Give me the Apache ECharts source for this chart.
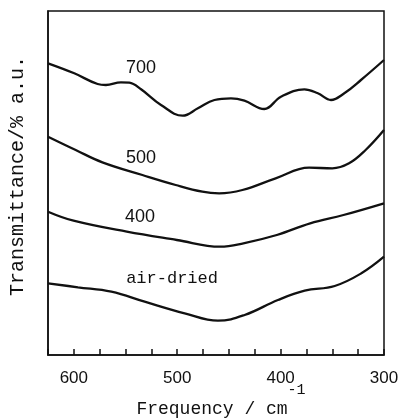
<!DOCTYPE html>
<html>
<head>
<meta charset="utf-8">
<script src="https://cdn.jsdelivr.net/npm/echarts@6/dist/echarts.min.js"></script>
<style>html,body{margin:0;padding:0;background:#fff;}#c{width:398px;height:418px;}</style>
</head>
<body>
<div id="c"></div>
<script>
// Frequency (cm^-1) and transmittance (a.u.) for each curve
const freq700 = [625, 599.6, 577, 569, 554.4, 546.4, 535, 515.7, 494.7, 480, 464, 448, 435, 415.8, 399.7, 377, 364, 351.3, 338.4, 322.3, 300];
const t700    = [291.7, 281.7, 271, 270, 272.7, 272.3, 265.7, 250, 239.3, 246.7, 255, 256.7, 254.3, 246, 258.3, 265.7, 261.7, 255, 261.7, 275, 295];
const freq500 = [625, 598.2, 572.4, 533.7, 501.5, 475.7, 459.5, 437, 404.8, 372.5, 350, 333.8, 317.8, 300];
const t500    = [218.3, 205, 192.7, 180, 170, 163.3, 161.7, 165, 176.7, 187.3, 186.7, 191.7, 205, 225];
const freq400 = [625, 600.3, 548.8, 500.4, 458.5, 436, 403.7, 371.4, 339.2, 300];
const t400    = [143.3, 134.3, 123.3, 115, 108.3, 111.7, 120, 131.7, 140, 151.7];
const freqAir = [625, 596, 563.7, 531.5, 492.8, 460.6, 434.8, 402.6, 376.7, 347.7, 321.9, 300];
const tAir    = [71.7, 67.7, 63.3, 53.3, 41.7, 34.3, 40, 55, 64.3, 69, 81.7, 98.3];
const curveNames = ['700', '500', '400', 'air-dried'];
const labelFreq = [535, 535, 536, 505];
const labelT = [286.7, 197, 138.3, 76.7];
const xTickLabels = [600, 500, 400, 300];

const zip = (a, b) => a.map((v, i) => [v, b[i]]);
const curves = [zip(freq700, t700), zip(freq500, t500), zip(freq400, t400), zip(freqAir, tAir)];
const mono = '"Liberation Mono", "DejaVu Sans Mono", monospace';
const sans = '"Liberation Sans", Arial, sans-serif';

const chart = echarts.init(document.getElementById('c'), null, {renderer: 'canvas'});
chart.setOption({
  animation: false,
  backgroundColor: '#fff',
  grid: {left: 48, right: 14, top: 11, bottom: 63, containLabel: false, outerBoundsMode: 'none',
    show: true, borderColor: '#111', borderWidth: 1.5, backgroundColor: 'transparent'},
  xAxis: {
    type: 'value', min: 300, max: 625, interval: 25, inverse: true,
    axisLine: {show: true, lineStyle: {color: '#111', width: 1.5}},
    axisTick: {show: true, inside: true, length: 6, lineStyle: {color: '#111', width: 1.5}},
    splitLine: {show: false},
    axisLabel: {
      margin: 15, color: '#111', fontFamily: sans, fontSize: 17,
      formatter: v => xTickLabels.indexOf(v) >= 0 ? String(v) : ''
    },
    name: '{a|Frequency / cm}{s|-1}',
    nameLocation: 'middle', nameGap: 43, nameMoveOverlap: false,
    nameTextStyle: {
      padding: [0, 0, 0, 10],
      rich: {
        a: {fontFamily: mono, fontSize: 18, color: '#111', lineHeight: 20, verticalAlign: 'bottom'},
        s: {fontFamily: mono, fontSize: 15, color: '#111', lineHeight: 15, padding: [0, 0, 20, 0], verticalAlign: 'bottom'}
      }
    }
  },
  yAxis: {
    type: 'value', min: 0, max: 344,
    axisLine: {show: true, lineStyle: {color: '#111', width: 1.5}},
    axisTick: {show: false}, axisLabel: {show: false}, splitLine: {show: false},
    name: 'Transmittance/% a.u.', nameLocation: 'middle', nameGap: 20, nameRotate: 90, nameMoveOverlap: false,
    nameTextStyle: {fontFamily: mono, fontSize: 20, color: '#111', padding: [0, 0, 0, 14]}
  },
  series: curves.map((d, i) => ({
    type: 'line', data: d, smooth: 0.4, symbol: 'none',
    lineStyle: {color: '#111', width: 2.3},
    markPoint: {
      symbol: 'circle', symbolSize: 0,
      data: [{coord: [labelFreq[i], labelT[i]], value: curveNames[i]}],
      label: {show: true, position: 'inside', formatter: curveNames[i], color: '#111',
        fontFamily: i === 3 ? mono : sans, fontSize: i === 3 ? 17 : 18}
    }
  }))
});
</script>
</body>
</html>
